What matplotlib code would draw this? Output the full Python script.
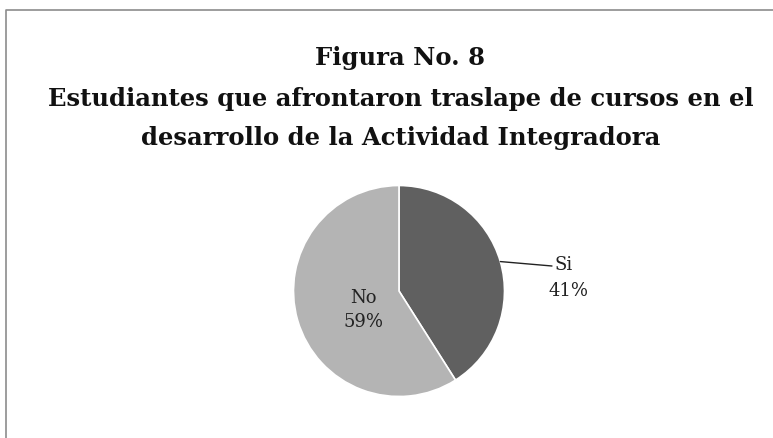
import matplotlib
matplotlib.use("Agg")
import matplotlib.pyplot as plt
import numpy as np

# data
labels = ["Si", "No"]
values = [41, 59]
colors = ["#606060", "#b4b4b4"]
title_lines = ["Figura No. 8",
               "Estudiantes que afrontaron traslape de cursos en el",
               "desarrollo de la Actividad Integradora"]

W, H = 773, 438
fig = plt.figure(figsize=(W / 100, H / 100), dpi=100)
plt.rcParams['font.family'] = ['DejaVu Serif']

# chart area frame (cut off at right and bottom)
frame = plt.Line2D([6 / W, 6 / W, 1.0], [0.0, 1 - 10 / H, 1 - 10 / H],
                   transform=fig.transFigure, color="#8c8c8c", lw=1.2)
fig.add_artist(frame)

# title
title_y = [58, 99, 138]
for txt, y in zip(title_lines, title_y):
    fig.text(0.518, 1 - y / H, txt, ha="center", va="center",
             fontsize=17.5, fontweight="bold", color="#111111")

# pie
cx, cy, r = 399, 291, 105.5
ax = fig.add_axes([(cx - r) / W, (H - cy - r) / H, 2 * r / W, 2 * r / H])
wedges, _ = ax.pie(values, colors=colors, startangle=90, counterclock=False,
                   radius=1.0, wedgeprops=dict(edgecolor="white", linewidth=1.2))
ax.set_xlim(-1, 1)
ax.set_ylim(-1, 1)
ax.set_aspect("equal")
ax.axis("off")

pct = [f"{v / sum(values) * 100:.0f}%" for v in values]

# Si label outside with leader line
w = wedges[0]
ang = np.deg2rad((w.theta1 + w.theta2) / 2)
ax.annotate("", xy=(np.cos(ang), np.sin(ang)), xytext=(1.45, 0.237),
            arrowprops=dict(arrowstyle="-", color="#222222", lw=1.0,
                            shrinkA=0, shrinkB=0),
            annotation_clip=False)
ax.text(1.475, 0.245, labels[0], ha="left", va="center",
        fontsize=13, color="#222222", clip_on=False)
ax.text(1.61, 0.0, pct[0], ha="center", va="center",
        fontsize=13, color="#222222", clip_on=False)

# No label inside
ax.text(-0.34, -0.18, f"{labels[1]}\n{pct[1]}", ha="center", va="center",
        fontsize=13, linespacing=1.4, color="#222222")

fig.savefig("out.png", dpi=100)
